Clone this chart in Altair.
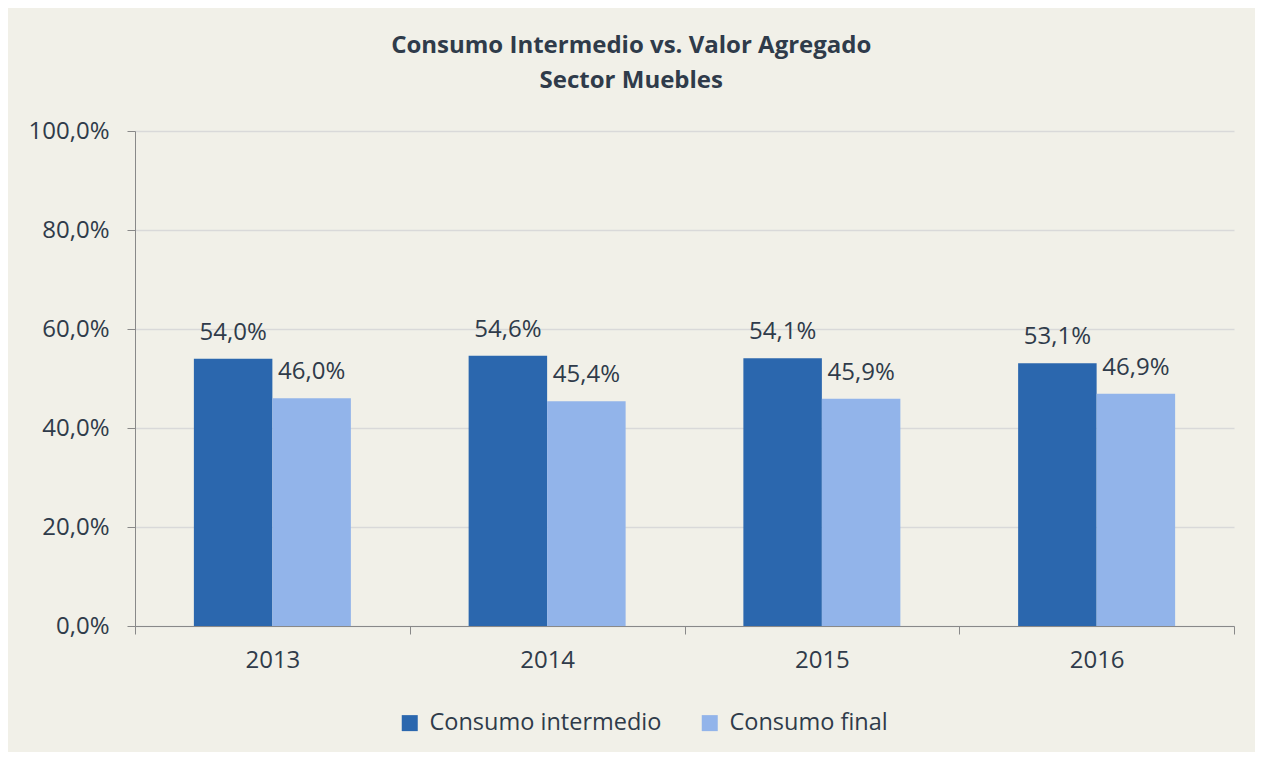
import altair as alt
import pandas as pd

years = ["2013", "2014", "2015", "2016"]
series = ["Consumo intermedio", "Consumo final"]
intermedio = [0.540, 0.546, 0.541, 0.531]
final = [0.460, 0.454, 0.459, 0.469]
colors = ["#2B67AE", "#92B4EA"]

rows = []
for i, y in enumerate(years):
    rows.append({"year": y, "serie": series[0], "value": intermedio[i]})
    rows.append({"year": y, "serie": series[1], "value": final[i]})
df = pd.DataFrame(rows)
df["label"] = df["value"].map(lambda v: f"{v*100:.1f}%".replace(".", ","))

FONT = "Open Sans"
TXT = "#2F3B4A"

x = alt.X("year:N", title=None, sort=years,
          scale=alt.Scale(paddingInner=0, paddingOuter=0),
          axis=alt.Axis(labelAngle=0, labelFontSize=24, labelFont=FONT, labelColor=TXT,
                        tickBand="extent", tickSize=8, tickColor="#898989",
                        domainColor="#898989", labelPadding=14, grid=False))
xo = alt.XOffset("serie:N", sort=series, scale=alt.Scale(paddingInner=0, paddingOuter=0.75))
y = alt.Y("value:Q", title=None,
          scale=alt.Scale(domain=[0, 1]),
          axis=alt.Axis(values=[0, 0.2, 0.4, 0.6, 0.8, 1.0],
                        labelExpr="replace(format(datum.value, '.1%'), '.', ',')",
                        labelFontSize=24, labelFont=FONT, labelColor=TXT,
                        tickSize=8, tickColor="#898989", domainColor="#898989",
                        labelPadding=18, gridColor="#D9D9D9", gridWidth=1.5))
color = alt.Color("serie:N", sort=series,
                  scale=alt.Scale(domain=series, range=colors),
                  legend=alt.Legend(title=None, orient="none", direction="horizontal",
                                    legendX=263, legendY=580,
                                    symbolType="square", symbolSize=256,
                                    symbolStrokeWidth=0, labelLimit=0,
                                    labelFontSize=23.5, labelFont=FONT, labelColor=TXT,
                                    labelOffset=8, columnPadding=36, padding=0))

bars = alt.Chart(df).mark_bar().encode(x=x, xOffset=xo, y=y, color=color)
labels = alt.Chart(df).mark_text(fontSize=24, font=FONT, color=TXT, dy=-19,
                                 baseline="alphabetic").encode(
    x=x, xOffset=xo, y=y, text="label:N")

chart = (bars + labels).properties(
    width=1099, height=495,
    autosize=alt.AutoSizeParams(type="none"),
    padding={"left": 127, "top": 123, "right": 21, "bottom": 126},
    background="#F1F0E8",
    title=alt.TitleParams(
        text=["Consumo Intermedio vs. Valor Agregado", "Sector Muebles"],
        font=FONT, fontSize=24, fontWeight="bold", color=TXT,
        anchor="middle", frame="bounds", lineHeight=35, offset=26),
).configure_view(stroke=None)

chart.save("out.html", embed_options={"renderer": "svg", "actions": False})
